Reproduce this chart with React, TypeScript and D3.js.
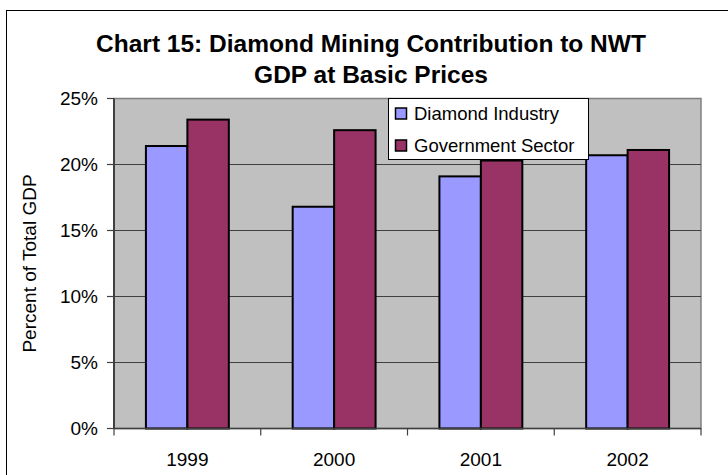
import React from "react";
import * as d3 from "d3";

const years = ["1999", "2000", "2001", "2002"];
const seriesNames = ["Diamond Industry", "Government Sector"];
const diamondIndustry = [21.4, 16.8, 19.1, 20.7];
const governmentSector = [23.4, 22.6, 20.3, 21.1];
const yTicks = [0, 5, 10, 15, 20, 25];
const colors = ["#9999FF", "#993366"];

const W = 728;
const H = 475;
const plot = { left: 114, right: 701, top: 98.5, bottom: 428.5 };
const FONT = "Liberation Sans, Arial, Helvetica, sans-serif";

export default function App() {
  const x0 = d3.scaleBand<string>().domain(years).range([plot.left, plot.right]).padding(0);
  const x1 = d3
    .scaleBand<string>()
    .domain(seriesNames)
    .range([0, x0.bandwidth()])
    .paddingInner(0)
    .paddingOuter(0.77);
  const y = d3.scaleLinear().domain([0, 25]).range([plot.bottom, plot.top]);
  const values = [diamondIndustry, governmentSector];
  const fmt = (v: number) => `${v}%`;

  return (
    <svg
      width={W}
      height={H}
      style={{ position: "absolute", left: 0, top: 0, background: "#fff" }}
      fontFamily={FONT}
    >
      <rect x={6.5} y={10.5} width={760} height={500} fill="#fff" stroke="#000" strokeWidth={1} />
      <text x={371} y={52} textAnchor="middle" fontSize={24.5} fontWeight="bold" fill="#000">
        Chart 15: Diamond Mining Contribution to NWT
      </text>
      <text x={371} y={83} textAnchor="middle" fontSize={24.5} fontWeight="bold" fill="#000">
        GDP at Basic Prices
      </text>

      {/* plot area */}
      <rect
        x={plot.left}
        y={plot.top}
        width={plot.right - plot.left}
        height={plot.bottom - plot.top}
        fill="#C0C0C0"
        stroke="#808080"
        strokeWidth={1.5}
      />
      {yTicks
        .filter((t) => t > 0 && t < 25)
        .map((t) => (
          <line
            key={`g${t}`}
            x1={plot.left}
            x2={plot.right}
            y1={y(t)}
            y2={y(t)}
            stroke="#404040"
            strokeWidth={1}
          />
        ))}

      {/* bars */}
      {years.map((yr, i) => (
        <g key={yr} transform={`translate(${x0(yr)},0)`}>
          {seriesNames.map((s, j) => (
            <rect
              key={s}
              x={x1(s)}
              y={y(values[j][i])}
              width={x1.bandwidth()}
              height={y(0) - y(values[j][i])}
              fill={colors[j]}
              stroke="#000"
              strokeWidth={2}
            />
          ))}
        </g>
      ))}

      {/* y axis */}
      <line x1={plot.left} x2={plot.left} y1={plot.top} y2={plot.bottom} stroke="#404040" strokeWidth={2} />
      {yTicks.map((t) => (
        <g key={`t${t}`}>
          <line x1={plot.left - 7} x2={plot.left} y1={y(t)} y2={y(t)} stroke="#404040" strokeWidth={1.2} />
          <text
            x={plot.left - 16}
            y={y(t)}
            dy="0.36em"
            textAnchor="end"
            fontSize={19}
            fill="#000"
          >
            {fmt(t)}
          </text>
        </g>
      ))}
      <text
        transform={`translate(36,${(plot.top + plot.bottom) / 2}) rotate(-90)`}
        textAnchor="middle"
        fontSize={19}
        fill="#000"
      >
        Percent of Total GDP
      </text>

      {/* x axis */}
      <line x1={plot.left} x2={plot.right} y1={plot.bottom} y2={plot.bottom} stroke="#404040" strokeWidth={1.5} />
      {[...years.map((yr) => x0(yr) as number), plot.right].map((xv, i) => (
        <line key={`xt${i}`} x1={xv} x2={xv} y1={plot.bottom} y2={plot.bottom + 7} stroke="#404040" strokeWidth={1.2} />
      ))}
      {years.map((yr) => (
        <text
          key={`xl${yr}`}
          x={(x0(yr) as number) + x0.bandwidth() / 2}
          y={466}
          textAnchor="middle"
          fontSize={19}
          fill="#000"
        >
          {yr}
        </text>
      ))}

      {/* legend */}
      <rect x={388.5} y={98.5} width={200} height={61} fill="#fff" stroke="#000" strokeWidth={1} />
      {seriesNames.map((s, j) => (
        <g key={`lg${s}`}>
          <rect x={395.5} y={108 + j * 32} width={11} height={11} fill={colors[j]} stroke="#000" strokeWidth={1.5} />
          <text x={414} y={114 + j * 32} dy="0.35em" fontSize={18.5} fill="#000">
            {s}
          </text>
        </g>
      ))}
    </svg>
  );
}
